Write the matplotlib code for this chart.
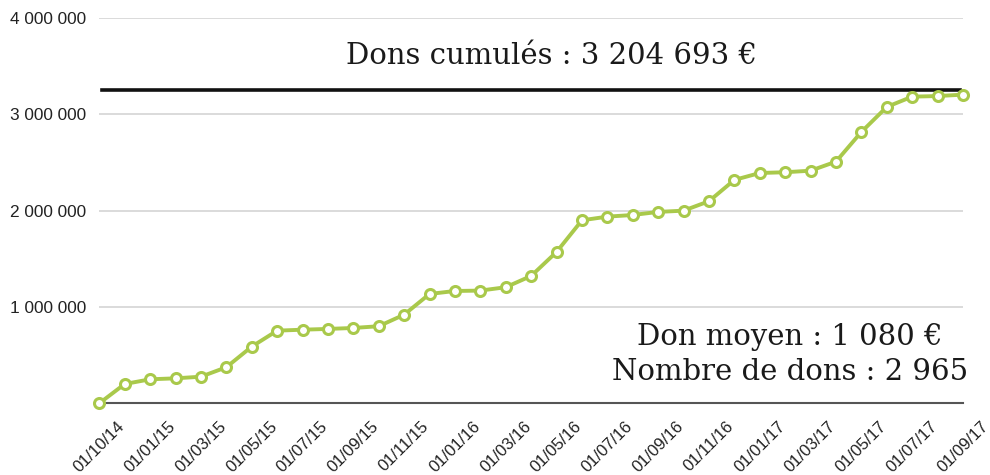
import matplotlib
matplotlib.use("Agg")
import matplotlib.pyplot as plt
import numpy as np

# Data (cumulative donations, monthly points)
values = [0, 200000, 249000, 259000, 276000, 374000, 588000, 754000, 764000, 772000,
          782000, 800000, 920000, 1135000, 1166000, 1170000, 1205000, 1322000, 1571000,
          1900000, 1938000, 1955000, 1987000, 2000000, 2098000, 2319000, 2391000,
          2399000, 2415000, 2509000, 2817000, 3077000, 3184000, 3190000, 3204693]
tick_labels = ["01/10/14", "01/01/15", "01/03/15", "01/05/15", "01/07/15", "01/09/15",
               "01/11/15", "01/01/16", "01/03/16", "01/05/16", "01/07/16", "01/09/16",
               "01/11/16", "01/01/17", "01/03/17", "01/05/17", "01/07/17", "01/09/17"]
y_ticks = [1000000, 2000000, 3000000, 4000000]
y_tick_labels = ["1 000 000", "2 000 000", "3 000 000", "4 000 000"]
target_line = 3250000
text_total = "Dons cumulés : 3 204 693 €"
text_avg = "Don moyen : 1 080 €"
text_count = "Nombre de dons : 2 965"

fig = plt.figure(figsize=(9.9, 4.75), dpi=100)
ax = fig.add_axes([0.1003, 0.151, 0.8724, 0.811])

x = np.arange(len(values))
green = "#a9c94b"
ax.plot(x, values, color=green, lw=2.8, marker="o", ms=7.2, mfc="white",
        mec=green, mew=2.2, clip_on=False, zorder=4)

ax.set_xlim(0, len(values) - 1)
ax.set_ylim(0, 4000000)

ax.set_yticks(y_ticks)
ax.set_yticklabels(y_tick_labels, fontsize=12.4, family="Liberation Sans", color="#222222")
ax.yaxis.grid(True, color="#d4d4d4", lw=1.2)
ax.set_axisbelow(True)

ax.set_xticks(x[::2])
ax.set_xticklabels(tick_labels, rotation=45, ha="center", fontsize=12,
                   family="Liberation Sans", color="#222222")
ax.tick_params(axis="both", length=0)
ax.tick_params(axis="x", pad=11)
ax.tick_params(axis="y", pad=9.5)

for s in ["left", "right", "top"]:
    ax.spines[s].set_visible(False)
ax.spines["bottom"].set_color("#555555")
ax.spines["bottom"].set_linewidth(1.5)
ax.spines["bottom"].set_zorder(3)

ax.axhline(target_line, xmin=0.003, xmax=0.996, color="#111111", lw=2.6, zorder=3)

fig.text(551 / 990, 1 - 56 / 475, text_total, ha="center", va="center",
         fontsize=21, family="DejaVu Serif", color="#1a1a1a")
fig.text(790 / 990, 1 - 337 / 475, text_avg, ha="center", va="center",
         fontsize=21, family="DejaVu Serif", color="#1a1a1a")
fig.text(790 / 990, 1 - 372 / 475, text_count, ha="center", va="center",
         fontsize=21, family="DejaVu Serif", color="#1a1a1a")

fig.savefig("out.png", dpi=100, facecolor="white")
